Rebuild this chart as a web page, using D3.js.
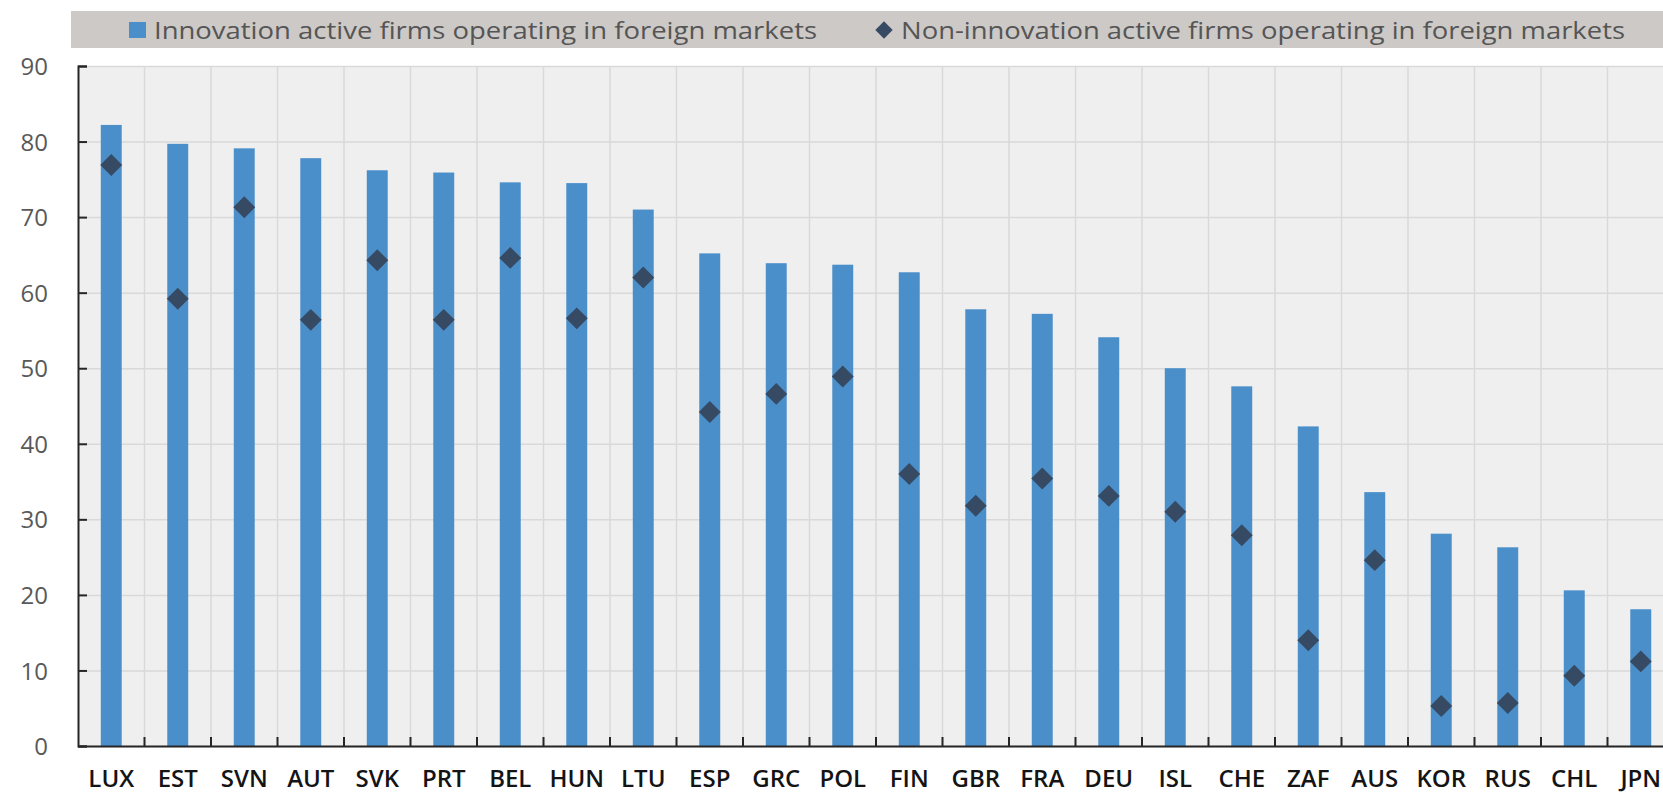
<!DOCTYPE html>
<html>
<head>
<meta charset="utf-8">
<script src="https://cdn.jsdelivr.net/npm/d3@7/dist/d3.min.js"></script>
<style>
	body { margin: 0; background: #fff; }
	svg { display: block; }
	text { font-family: "Open Sans", "Noto Sans", sans-serif; }
	.y.axis text { fill: #595959; font-size: 24px; }
	.x.axis text { fill: #141414; font-size: 24px; font-weight: 600; }
	.grid line { stroke: #d9d9d9; stroke-width: 1.5px; }
	.grid path { display: none; }
</style>
</head>
<body>
<svg id="chart" width="1663" height="795"></svg>
<script>
// countries, sorted by innovation active firms
var countries = ["LUX", "EST", "SVN", "AUT", "SVK", "PRT", "BEL", "HUN", "LTU", "ESP", "GRC", "POL",
	"FIN", "GBR", "FRA", "DEU", "ISL", "CHE", "ZAF", "AUS", "KOR", "RUS", "CHL", "JPN"];

// Innovation active firms operating in foreign markets (bars)
var innovActive = [82.2, 79.7, 79.1, 77.8, 76.2, 75.9, 74.6, 74.5, 71.0, 65.2, 63.9, 63.7,
	62.7, 57.8, 57.2, 54.1, 50.0, 47.6, 42.3, 33.6, 28.1, 26.3, 20.6, 18.1];

// Non-innovation active firms operating in foreign markets (diamonds)
var nonInnovActive = [76.9, 59.2, 71.3, 56.4, 64.3, 56.4, 64.6, 56.6, 62.0, 44.2, 46.6, 48.9,
	36.0, 31.8, 35.4, 33.1, 31.0, 27.9, 14.0, 24.6, 5.3, 5.7, 9.3, 11.2];

var yTicks = [0, 10, 20, 30, 40, 50, 60, 70, 80, 90];

var seriesNames = ["Innovation active firms operating in foreign markets",
	"Non-innovation active firms operating in foreign markets"];

(function () {
	var svg = d3.select("#chart");
	var margin = {top: 66, right: 0, bottom: 49, left: 78};
	var height = +svg.attr("height") - margin.top - margin.bottom;
	// the plot runs past the right edge, JPN is cut off
	var width = 24 * 66.5;

	var data = countries.map(function (c, i) {
		return {country: c, innov: innovActive[i], nonInnov: nonInnovActive[i]};
	});

	var x = d3.scaleBand()
		.domain(countries)
		.range([0, width]);

	var y = d3.scaleLinear()
		.domain([0, 90])
		.range([height, 0]);

	// legend strip
	var legend = svg.append("g");
	legend.append("rect")
		.attr("x", 71)
		.attr("y", 11)
		.attr("width", 1600)
		.attr("height", 37)
		.attr("fill", "#ccc9c7");
	legend.append("rect")
		.attr("x", 129)
		.attr("y", 22)
		.attr("width", 17)
		.attr("height", 16)
		.attr("fill", "#4a8fca");
	legend.append("text")
		.attr("x", 154)
		.attr("y", 39)
		.attr("fill", "#555")
		.attr("textLength", 663)
		.attr("lengthAdjust", "spacingAndGlyphs")
		.style("font-size", "24px")
		.text(seriesNames[0]);
	legend.append("path")
		.attr("d", d3.symbol(d3.symbolSquare, 150)())
		.attr("transform", "translate(884,30) rotate(45)")
		.attr("fill", "#364a63");
	legend.append("text")
		.attr("x", 901)
		.attr("y", 39)
		.attr("fill", "#555")
		.attr("textLength", 724)
		.attr("lengthAdjust", "spacingAndGlyphs")
		.style("font-size", "24px")
		.text(seriesNames[1]);

	var g = svg.append("g").attr("transform", "translate(" + margin.left + "," + margin.top + ")");

	// plot background
	g.append("rect")
		.attr("width", width)
		.attr("height", height)
		.attr("fill", "#efefef");

	// horizontal gridlines
	g.append("g")
		.attr("class", "grid")
		.call(d3.axisLeft(y).tickValues(yTicks).tickSize(-width).tickFormat(""));

	// vertical gridlines between countries
	g.append("g")
		.attr("class", "grid")
		.selectAll("line")
		.data(countries.slice(1))
		.enter().append("line")
		.attr("x1", function (d) { return x(d); })
		.attr("x2", function (d) { return x(d); })
		.attr("y1", 0)
		.attr("y2", height);

	// bars
	var barW = x.bandwidth() * 0.315;
	g.selectAll(".bar")
		.data(data)
		.enter().append("rect")
		.attr("class", "bar")
		.attr("x", function (d) { return x(d.country) + (x.bandwidth() - barW) / 2; })
		.attr("y", function (d) { return y(d.innov); })
		.attr("width", barW)
		.attr("height", function (d) { return height - y(d.innov); })
		.attr("fill", "#4a8fca");

	// diamonds
	g.selectAll(".dot")
		.data(data)
		.enter().append("path")
		.attr("class", "dot")
		.attr("d", d3.symbol(d3.symbolSquare, 240)())
		.attr("transform", function (d) {
			return "translate(" + (x(d.country) + x.bandwidth() / 2) + "," + y(d.nonInnov) + ") rotate(45)";
		})
		.attr("fill", "#364a63");

	// y axis, ticks point inwards
	var yAxis = g.append("g")
		.attr("class", "y axis")
		.call(d3.axisLeft(y).tickValues(yTicks).tickSize(-9).tickPadding(30));
	yAxis.selectAll("path, line").attr("stroke", "#262626").attr("stroke-width", 2);
	yAxis.selectAll("text").attr("dy", "0.36em");

	// x axis labels
	var xAxis = g.append("g")
		.attr("class", "x axis")
		.attr("transform", "translate(0," + height + ")")
		.call(d3.axisBottom(x).tickSize(0).tickPadding(24));
	xAxis.select(".domain").attr("stroke", "#262626").attr("stroke-width", 2);

	// tick marks at country boundaries
	xAxis.selectAll(".sep")
		.data(countries.slice(1))
		.enter().append("line")
		.attr("class", "sep")
		.attr("x1", function (d) { return x(d); })
		.attr("x2", function (d) { return x(d); })
		.attr("y1", 0)
		.attr("y2", -9)
		.attr("stroke", "#262626")
		.attr("stroke-width", 2);
}) ();
</script>
</body>
</html>
